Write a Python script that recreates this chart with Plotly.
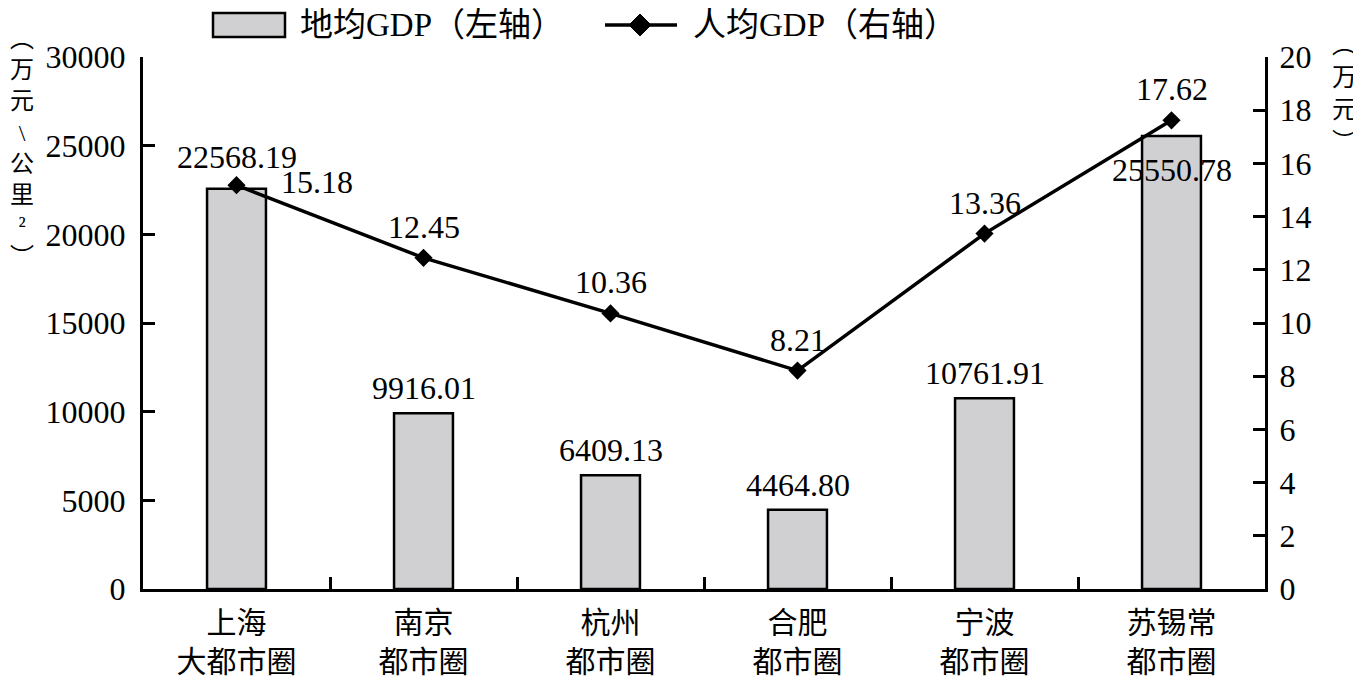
import plotly.graph_objects as go

categories = ["上海<br>大都市圈", "南京<br>都市圈", "杭州<br>都市圈", "合肥<br>都市圈", "宁波<br>都市圈", "苏锡常<br>都市圈"]
land_gdp = [22568.19, 9916.01, 6409.13, 4464.80, 10761.91, 25550.78]
land_gdp_labels = ["22568.19", "9916.01", "6409.13", "4464.80", "10761.91", "25550.78"]
per_capita_gdp = [15.18, 12.45, 10.36, 8.21, 13.36, 17.62]
per_capita_labels = ["15.18", "12.45", "10.36", "8.21", "13.36", "17.62"]
left_ticks = [0, 5000, 10000, 15000, 20000, 25000, 30000]
right_ticks = [0, 2, 4, 6, 8, 10, 12, 14, 16, 18, 20]

FONT = "Liberation Serif, Noto Sans CJK SC, serif"
BAR_FILL = "#d0d0d3"

# page body has an 8px margin; figure placed so plot area lands at x 143-1265, y 57-589
OFF = 8
W, H = 1361 - OFF, 680 - OFF
L, R, T, B = 143 - OFF, 96, 57 - OFF, 91
PW, PH = W - L - R, H - T - B


def px(x):
    # page pixel x -> paper
    return (x - OFF - L) / PW


def py(y):
    # page pixel y -> paper
    return (H - B - (y - OFF)) / PH


fig = go.Figure()
fig.add_trace(go.Bar(
    x=categories, y=land_gdp, name="地均GDP（左轴）",
    marker=dict(color=BAR_FILL, line=dict(color="black", width=2.5)),
    yaxis="y", showlegend=False,
))
fig.add_trace(go.Scatter(
    x=categories, y=per_capita_gdp, name="人均GDP（右轴）",
    mode="lines+markers",
    line=dict(color="black", width=3.5),
    marker=dict(symbol="diamond", size=14, color="black"),
    yaxis="y2", showlegend=False,
))

NUM = dict(family=FONT, size=32, color="black")
annotations = []
# bar value labels
for i, (c, v, t) in enumerate(zip(categories, land_gdp, land_gdp_labels)):
    if i == 5:
        ys = -34
    elif i == 0:
        ys = 32
    else:
        ys = 25
    annotations.append(dict(x=c, y=v, xref="x", yref="y", text=t, showarrow=False,
                            yanchor="middle", xanchor="center", yshift=ys, font=NUM))
# line value labels
for i, (c, v, t) in enumerate(zip(categories, per_capita_gdp, per_capita_labels)):
    if i == 0:
        annotations.append(dict(x=c, y=v, xref="x", yref="y2", text=t, showarrow=False,
                                yanchor="middle", xanchor="left", xshift=42, yshift=3, font=NUM))
    else:
        annotations.append(dict(x=c, y=v, xref="x", yref="y2", text=t, showarrow=False,
                                yanchor="middle", xanchor="center", yshift=31, font=NUM))

# axis titles (vertical text)
annotations.append(dict(x=px(22), y=py(148), xref="paper", yref="paper",
                        text="<br>".join(["︵", "万", "元", "\\", "公", "里", "²", "︶"]),
                        showarrow=False, xanchor="center", yanchor="middle",
                        font=dict(family=FONT, size=24, color="black")))
annotations.append(dict(x=px(1344), y=py(93), xref="paper", yref="paper",
                        text="<br>".join(["︵", "万", "元", "︶"]),
                        showarrow=False, xanchor="center", yanchor="middle",
                        font=dict(family=FONT, size=25, color="black")))

# legend texts
LEG = dict(family=FONT, size=33, color="black")
annotations.append(dict(x=px(298), y=py(25), xref="paper", yref="paper",
                        text="地均GDP（左轴）", showarrow=False, xanchor="left", yanchor="middle",
                        font=LEG))
annotations.append(dict(x=px(691), y=py(25), xref="paper", yref="paper",
                        text="人均GDP（右轴）", showarrow=False, xanchor="left", yanchor="middle",
                        font=LEG))

shapes = [
    dict(type="rect", xref="paper", yref="paper", x0=px(213), x1=px(285), y0=py(37), y1=py(13),
         fillcolor=BAR_FILL, line=dict(color="black", width=2.5)),
    dict(type="line", xref="paper", yref="paper", x0=px(605), x1=px(677), y0=py(25), y1=py(25),
         line=dict(color="black", width=3.5)),
    dict(type="path", xref="paper", yref="paper",
         path=f"M {px(640)},{py(14)} L {px(651)},{py(25)} L {px(640)},{py(36)} L {px(629)},{py(25)} Z",
         fillcolor="black", line=dict(color="black", width=1)),
]

axis_common = dict(
    showline=True, linecolor="black", linewidth=3, showgrid=False, zeroline=False,
    ticks="inside", ticklen=12, tickwidth=3, tickcolor="black",
    tickfont=dict(family=FONT, size=32, color="black"), automargin=False,
)

fig.update_layout(
    width=W, height=H,
    margin=dict(l=L, r=R, t=T, b=B),
    paper_bgcolor="white", plot_bgcolor="white",
    bargap=0.685,
    font=dict(family=FONT, color="black"),
    xaxis=dict(type="category", range=[-0.5, 5.5], tickson="boundaries",
               showline=True, linecolor="black", linewidth=3, showgrid=False,
               ticks="inside", ticklen=12, tickwidth=3, tickcolor="black",
               ticklabelstandoff=5, automargin=False,
               tickfont=dict(family=FONT, size=30, color="black")),
    yaxis=dict(range=[0, 30000], tickvals=left_ticks, ticktext=[str(v) for v in left_ticks],
               ticklabelstandoff=8, **axis_common),
    yaxis2=dict(range=[0, 20], tickvals=right_ticks, ticktext=[str(v) for v in right_ticks],
                overlaying="y", side="right", anchor="x", ticklabelstandoff=5, **axis_common),
    annotations=annotations,
    shapes=shapes,
    showlegend=False,
)

fig.write_html("out.html")
